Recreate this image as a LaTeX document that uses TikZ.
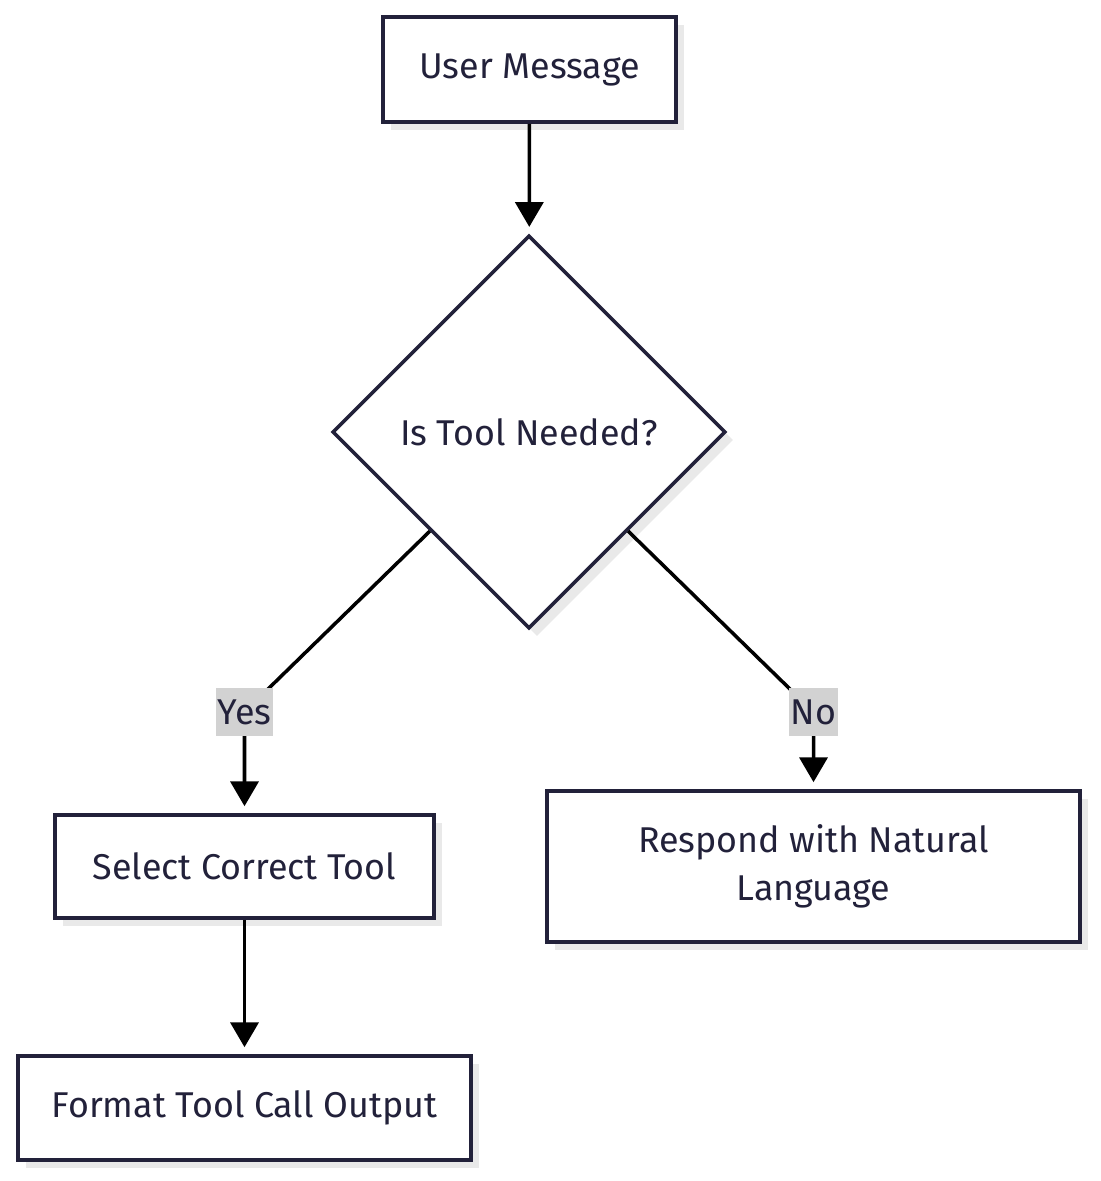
\documentclass[tikz,border=0pt]{standalone}
\usepackage{fontspec}
\setmainfont{Fira Sans}
\usetikzlibrary{arrows.meta,shapes.geometric,shadows}
\definecolor{navy}{HTML}{22213A}
\definecolor{lblgray}{HTML}{D2D2D2}
\definecolor{shadowgray}{HTML}{E9E9E9}
\tikzset{
  box/.style={draw=navy,line width=2.5pt,fill=white,text=navy,align=center,
    inner sep=0pt,font=\fontsize{25.5}{34}\selectfont,
    drop shadow={shadow xshift=0.2cm,shadow yshift=-0.2cm,fill=shadowgray,opacity=1}},
  decision/.style={box,diamond},
  flow/.style={line width=2.5pt,-{Triangle[length=0.62cm,width=0.7cm]},shorten >=5pt},
  lbl/.style={fill=lblgray,text=navy,inner xsep=1pt,inner ysep=0pt,minimum height=1.2cm,
    font=\fontsize{25.5}{28}\selectfont}
}
\begin{document}
\begin{tikzpicture}[x=0.025cm,y=-0.025cm]
  \useasboundingbox (0,0) rectangle (1100,1181);

  % Draw the nodes
  \node[box,minimum width=7.325cm,minimum height=2.625cm] (usermsg) at (529.5,69.5) {User Message};
  \node[decision,minimum width=9.825cm,minimum height=9.825cm] (decide) at (529,432) {Is Tool Needed?};
  \node[box,minimum width=9.475cm,minimum height=2.575cm] (selecttool) at (244.5,866.5) {Select Correct Tool};
  \node[box,minimum width=13.325cm,minimum height=3.775cm] (respond) at (813.5,866.5) {Respond with Natural\\Language};
  \node[box,minimum width=11.325cm,minimum height=2.6cm] (formatout) at (244.5,1108) {Format Tool Call Output};

  % Draw the bends
  \coordinate (yesbend) at (244.5,712);
  \coordinate (nobend) at (813.5,712);

  % Draw the connectors
  \draw[flow] (usermsg) -- (decide);
  \draw[flow] (decide.south west) -- (yesbend) node[lbl] {Yes} -- (selecttool);
  \draw[flow] (decide.south east) -- (nobend) node[lbl] {No} -- (respond);
  \draw[flow] (selecttool) -- (formatout);
\end{tikzpicture}
\end{document}
